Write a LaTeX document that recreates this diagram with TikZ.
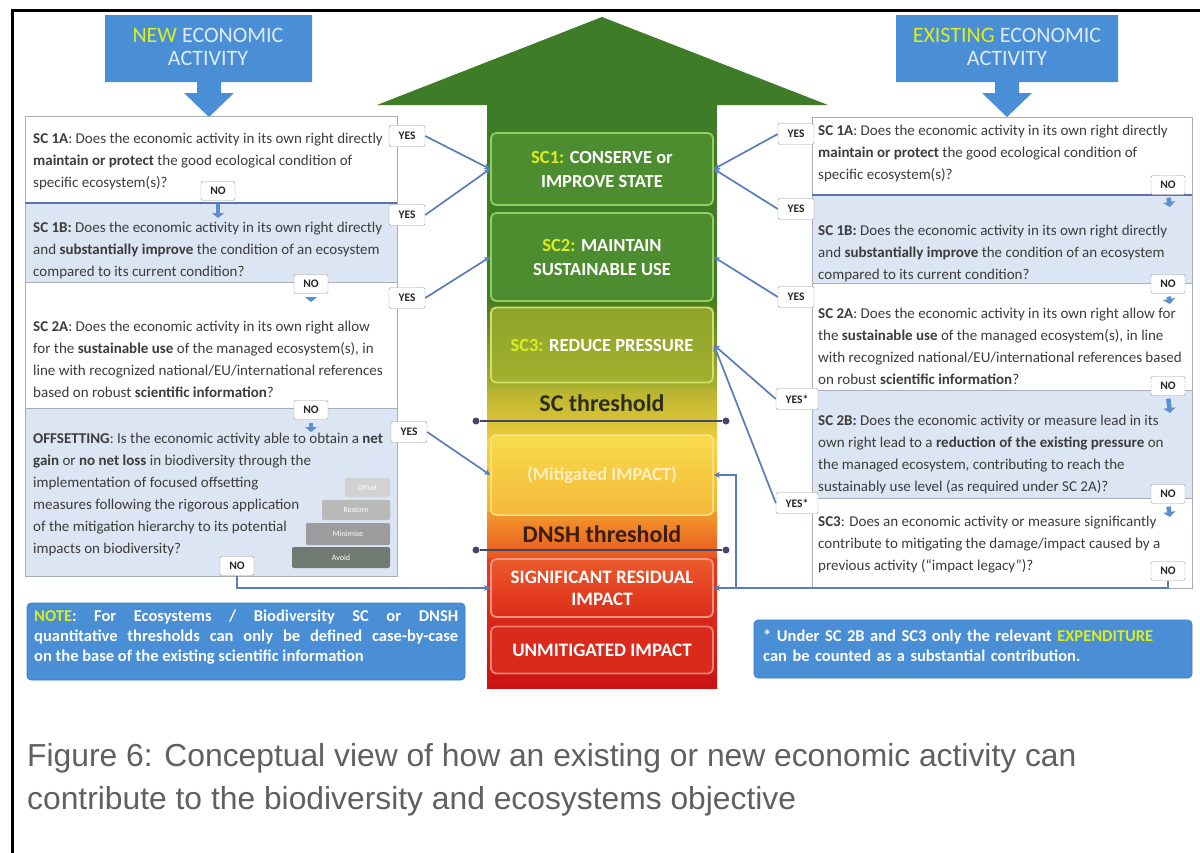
\documentclass[tikz,border=0pt]{standalone}
\usepackage{fontspec}
\setmainfont{Carlito}
\newfontfamily\capfont{Liberation Sans}
\usetikzlibrary{arrows.meta,calc}

\definecolor{hdrblue}{HTML}{4A8ED6}
\definecolor{hdrtext}{HTML}{DDEBFA}
\definecolor{hilite}{HTML}{DAEE1E}
\definecolor{qblue}{HTML}{DCE5F3}
\definecolor{qborder}{HTML}{A9AEB8}
\definecolor{qline}{HTML}{5E72B5}
\definecolor{connblue}{HTML}{5A7CBD}
\definecolor{qtext}{HTML}{3C3C3C}
\definecolor{lblborder}{HTML}{9C9C9C}
\definecolor{capgray}{HTML}{606060}
\definecolor{arrowgreen}{HTML}{3E7C27}
\definecolor{boxgreen}{HTML}{4E8D2F}
\definecolor{boxgreenline}{HTML}{93CF5C}
\definecolor{thrline}{HTML}{46466A}
\definecolor{smallarr}{HTML}{5B8FD0}

\begin{document}
\begin{tikzpicture}[x=1pt,y=-1pt,
  qt/.style={anchor=base west, inner sep=0pt, text=qtext, font=\fontsize{15}{16}\selectfont},
  lbl/.style={draw=lblborder, fill=white, rounded corners=1.5pt, inner sep=0pt,
    minimum width=36pt, minimum height=21pt, text=black!85, font=\bfseries\fontsize{11.5}{12}\selectfont},
  conn/.style={draw=connblue, line width=1.7pt, -{Stealth[length=6pt,width=6pt]}},
  dnarrow/.style={draw=smallarr, line width=4.5pt, shorten <=3pt, -{Triangle[length=5pt,width=12pt]}},
  cbox/.style={rounded corners=5pt, line width=1.8pt, minimum width=222pt, inner sep=0pt,
    text=white, align=center, font=\bfseries\fontsize{18.5}{24}\selectfont},
  thr/.style={draw=thrline, line width=2.2pt},
  thrdot/.style={circle, fill=thrline, inner sep=0pt, minimum size=7pt},
  thrtext/.style={inner sep=0pt, font=\bfseries\fontsize{24}{26}\selectfont},
  stair/.style={rounded corners=2pt, inner sep=0pt, text=white, font=\fontsize{8}{9}\selectfont},
  hdr/.style={inner sep=0pt, align=center, text=hdrtext, font=\fontsize{22}{23}\selectfont},
  notebox/.style={fill=hdrblue, draw=hdrblue!85!black, line width=0.6pt, rounded corners=4pt, inner sep=0pt},
  notetext/.style={anchor=north west, inner sep=0pt, text=white, font=\bfseries\fontsize{16.5}{20}\selectfont},
  captext/.style={anchor=base west, inner sep=0pt, text=capgray, font=\capfont\fontsize{31.8}{40}\selectfont},
]
\useasboundingbox (0,0) rectangle (1200,852);
\fill[white] (0,0) rectangle (1200,852);

% outer frame
\draw[line width=3pt] (12.5,870) -- (12.5,10.5) -- (1215,10.5);

% header callouts
\fill[hdrblue] (105,15) -- (312,15) -- (312,82) -- (221,82) -- (221,93) -- (234,93) -- (209,117)
  -- (184,93) -- (197,93) -- (197,82) -- (105,82) -- cycle;
\node[hdr] (newhdr) at (208,47) {\textcolor{hilite}{NEW} ECONOMIC\\ACTIVITY};
\fill[hdrblue] (896,15) -- (1118,15) -- (1118,82) -- (1019,82) -- (1019,93) -- (1032,93) -- (1007,117)
  -- (982,93) -- (995,93) -- (995,82) -- (896,82) -- cycle;
\node[hdr] (exhdr) at (1007,47) {\textcolor{hilite}{EXISTING} ECONOMIC\\ACTIVITY};

% big arrow: head and graded shaft
\fill[arrowgreen] (377,105) -- (602,17) -- (828,105) -- cycle;
\fill[arrowgreen] (487,104) rectangle (717,302);
\shade[top color=arrowgreen!80!olive, bottom color={rgb,255:red,171;green,178;blue,46}] (487,302) rectangle (717,390);
\shade[top color={rgb,255:red,184;green,180;blue,47}, bottom color={rgb,255:red,237;green,203;blue,60}] (487,390) rectangle (717,438);
\shade[top color={rgb,255:red,245;green,213;blue,69}, bottom color={rgb,255:red,242;green,178;blue,52}] (487,438) rectangle (717,512);
\shade[top color={rgb,255:red,241;green,154;blue,44}, bottom color={rgb,255:red,233;green,86;blue,31}] (487,512) rectangle (717,558);
\shade[top color={rgb,255:red,228;green,60;blue,30}, bottom color={rgb,255:red,201;green,19;blue,19}] (487,558) rectangle (717,688);

% levels inside the arrow
\node[cbox, fill=boxgreen, draw=boxgreenline, minimum height=72pt] (sc1) at (602,169)
  {\textcolor{hilite}{SC1:} CONSERVE or\\IMPROVE STATE};
\node[cbox, fill=boxgreen, draw=boxgreenline, minimum height=88pt] (sc2) at (602,257)
  {\textcolor{hilite}{SC2:} MAINTAIN\\SUSTAINABLE USE};
\node[cbox, top color={rgb,255:red,141;green,164;blue,44}, bottom color={rgb,255:red,163;green,176;blue,46},
  draw={rgb,255:red,210;green,222;blue,106}, minimum height=75pt] (sc3) at (602,345)
  {\textcolor{hilite}{SC3:} REDUCE PRESSURE};
\node[cbox, top color={rgb,255:red,248;green,220;blue,76}, bottom color={rgb,255:red,245;green,184;blue,58},
  draw={rgb,255:red,252;green,230;blue,140}, line width=1.5pt, minimum height=80pt,
  text={rgb,255:red,255;green,239;blue,192}] (mit) at (602,475) {(Mitigated IMPACT)};
\node[cbox, top color={rgb,255:red,236;green,90;blue,44}, bottom color={rgb,255:red,221;green,44;blue,26},
  draw={rgb,255:red,244;green,148;blue,131}, minimum height=58pt, font=\bfseries\fontsize{19}{22}\selectfont]
  (sri) at (602,588) {SIGNIFICANT RESIDUAL\\IMPACT};
\node[cbox, fill={rgb,255:red,217;green,42;blue,28}, draw={rgb,255:red,238;green,132;blue,116},
  minimum height=47pt, font=\bfseries\fontsize{19}{22}\selectfont] (unm) at (602,650) {UNMITIGATED IMPACT};

% thresholds
\node[thrtext, text={rgb,255:red,45;green,45;blue,30}] (sct) at (602,403) {SC threshold};
\node[thrdot] (sca) at (476,421) {};
\node[thrdot] (scb) at (726,421) {};
\draw[thr] (sca) -- (scb);
\node[thrtext, text={rgb,255:red,59;green,30;blue,14}] (dnt) at (602,534) {DNSH threshold};
\node[thrdot] (dna) at (476,550) {};
\node[thrdot] (dnb) at (726,550) {};
\draw[thr] (dna) -- (dnb);

% question panel, new activity
\fill[white] (25,116) rectangle (397,203);
\fill[qblue] (25,203) rectangle (397,282);
\fill[white] (25,282) rectangle (397,408);
\fill[qblue] (25,408) rectangle (397,576);
\draw[qborder, line width=1pt] (25,116) rectangle (397,576);
\draw[qline, line width=1.2pt] (25,203) -- (397,203);
\draw[qborder, line width=1pt] (25,282) -- (397,282);
\draw[qborder, line width=1pt] (25,408) -- (397,408);

% question panel, existing activity
\fill[white] (812,117) rectangle (1192,195);
\fill[qblue] (812,195) rectangle (1192,283);
\fill[white] (812,283) rectangle (1192,390);
\fill[qblue] (812,390) rectangle (1192,498);
\fill[white] (812,498) rectangle (1192,588);
\draw[qborder, line width=1pt] (812,117) rectangle (1192,588);
\draw[qline, line width=1.2pt] (812,195) -- (1192,195);
\draw[qborder, line width=1pt] (812,283) -- (1192,283);
\draw[qborder, line width=1pt] (812,390) -- (1192,390);
\draw[qborder, line width=1pt] (812,498) -- (1192,498);

% mitigation hierarchy steps
\node[stair, fill={rgb,255:red,210;green,210;blue,210}, minimum width=45pt, minimum height=19pt] (stOff) at (367.5,487.5) {Offset};
\node[stair, fill={rgb,255:red,185;green,185;blue,185}, minimum width=68pt, minimum height=20pt] (stRes) at (356,510) {Restore};
\node[stair, fill={rgb,255:red,156;green,156;blue,156}, minimum width=84pt, minimum height=22pt] (stMin) at (348,534) {Minimise};
\node[stair, fill={rgb,255:red,112;green,122;blue,114}, minimum width=98pt, minimum height=21pt] (stAvo) at (341,557.5) {Avoid};

% question texts, new activity
\foreach \qq [count=\i from 0] in {
  {\textbf{SC 1A}: Does the economic activity in its own right directly},
  {\textbf{maintain or protect} the good ecological condition of},
  {specific ecosystem(s)?}}
  \node[qt] (la-\i) at (33,143+22*\i) {\qq};
\foreach \qq [count=\i from 0] in {
  {\textbf{SC 1B:} Does the economic activity in its own right directly},
  {and \textbf{substantially improve} the condition of an ecosystem},
  {compared to its current condition?}}
  \node[qt] (lb-\i) at (33,232+22*\i) {\qq};
\foreach \qq [count=\i from 0] in {
  {\textbf{SC 2A}: Does the economic activity in its own right allow},
  {for the \textbf{sustainable use} of the managed ecosystem(s), in},
  {line with recognized national/EU/international references},
  {based on robust \textbf{scientific information}?}}
  \node[qt] (lc-\i) at (33,331+22*\i) {\qq};
\foreach \qq [count=\i from 0] in {
  {\textbf{OFFSETTING}: Is the economic activity able to obtain a \textbf{net}},
  {\textbf{gain} or \textbf{no net loss} in biodiversity through the},
  {implementation of focused offsetting},
  {measures following the rigorous application},
  {of the mitigation hierarchy to its potential},
  {impacts on biodiversity?}}
  \node[qt] (ld-\i) at (33,443+22*\i) {\qq};

% question texts, existing activity
\foreach \qq [count=\i from 0] in {
  {\textbf{SC 1A}: Does the economic activity in its own right directly},
  {\textbf{maintain or protect} the good ecological condition of},
  {specific ecosystem(s)?}}
  \node[qt] (ra-\i) at (818,135+22*\i) {\qq};
\foreach \qq [count=\i from 0] in {
  {\textbf{SC 1B:} Does the economic activity in its own right directly},
  {and \textbf{substantially improve} the condition of an ecosystem},
  {compared to its current condition?}}
  \node[qt] (rb-\i) at (818,235+22*\i) {\qq};
\foreach \qq [count=\i from 0] in {
  {\textbf{SC 2A}: Does the economic activity in its own right allow for},
  {the \textbf{sustainable use} of the managed ecosystem(s), in line},
  {with recognized national/EU/international references based},
  {on robust \textbf{scientific information}?}}
  \node[qt] (rc-\i) at (818,318+22*\i) {\qq};
\foreach \qq [count=\i from 0] in {
  {\textbf{SC 2B:} Does the economic activity or measure lead in its},
  {own right lead to a \textbf{reduction of the existing pressure} on},
  {the managed ecosystem, contributing to reach the},
  {sustainably use level (as required under SC 2A)?}}
  \node[qt] (rd-\i) at (818,425+22*\i) {\qq};
\foreach \qq [count=\i from 0] in {
  {\textbf{SC3}: Does an economic activity or measure significantly},
  {contribute to mitigating the damage/impact caused by a},
  {previous activity (“impact legacy”)?}}
  \node[qt] (re-\i) at (818,526+22*\i) {\qq};

% YES / NO labels
\node[lbl] (yl1) at (407,136) {YES};
\node[lbl] (yl2) at (407,215) {YES};
\node[lbl] (yl3) at (407,298) {YES};
\node[lbl] (yl4) at (409,432) {YES};
\node[lbl] (yr1) at (796,134) {YES};
\node[lbl] (yr2) at (796,209) {YES};
\node[lbl] (yr3) at (796,297) {YES};
\node[lbl, minimum width=42pt] (yr4) at (797,399) {YES*};
\node[lbl, minimum width=42pt] (yr5) at (797,503) {YES*};

\node[lbl, minimum width=34pt, minimum height=19pt] (nl1) at (218,191) {NO};
\node[lbl, minimum width=34pt, minimum height=19pt] (nl2) at (311,284) {NO};
\node[lbl, minimum width=34pt, minimum height=19pt] (nl3) at (311,410) {NO};
\node[lbl, minimum width=34pt, minimum height=19pt] (nl4) at (237,566) {NO};
\node[lbl, minimum width=34pt, minimum height=19pt] (nr1) at (1168,185) {NO};
\node[lbl, minimum width=34pt, minimum height=19pt] (nr2) at (1168,284) {NO};
\node[lbl, minimum width=34pt, minimum height=19pt] (nr3) at (1168,386) {NO};
\node[lbl, minimum width=34pt, minimum height=19pt] (nr4) at (1168,494) {NO};
\node[lbl, minimum width=34pt, minimum height=19pt] (nr5) at (1168,571) {NO};

% short arrows to the next question
\coordinate (al1) at (218,218);
\coordinate (al2) at (311,302);
\coordinate (al3) at (311,432);
\coordinate (ar1) at (1170,207);
\coordinate (ar2) at (1170,304);
\coordinate (ar3) at (1170,413);
\coordinate (ar4) at (1170,517);
\draw[dnarrow] (nl1.south) -- (al1);
\draw[dnarrow] (nl2.south) -- (al2);
\draw[dnarrow] (nl3.south) -- (al3);
\draw[dnarrow] (nr1.south) -- (ar1);
\draw[dnarrow] (nr2.south) -- (ar2);
\draw[dnarrow] (nr3.south) -- (ar3);
\draw[dnarrow] (nr4.south) -- (ar4);

% YES connectors into the arrow
\draw[conn] (yl1.east) -- (sc1.west);
\draw[conn] (yl2.east) -- (sc1.west);
\draw[conn] (yl3.east) -- (sc2.west);
\draw[conn] (yl4.east) -- (mit.west);
\draw[conn] (yr1.west) -- (sc1.east);
\draw[conn] (yr2.west) -- (sc1.east);
\draw[conn] (yr3.west) -- (sc2.east);
\draw[conn] (yr4.west) -- (sc3.east);
\draw[conn] (yr5.west) -- (sc3.east);

% final NO connectors
\draw[conn] (nl4.south) |- (sri.west);
\draw[conn] (nr5.south) |- (sri.east);
\path (sri.east) ++(22,0) coordinate (jr);
\draw[conn] (jr) |- (mit.east);

% notes
\node[notebox, minimum width=438pt, minimum height=77pt] (noteL) at (246,641.5) {};
\node[notetext, text width=424pt, align=justify] (noteLt) at (34,610)
  {\textcolor{hilite}{NOTE}: For Ecosystems / Biodiversity SC or DNSH\linebreak
   quantitative thresholds can only be defined case-by-case\linebreak
   on the base of the existing scientific information};
\node[notebox, minimum width=438pt, minimum height=58pt] (noteR) at (973,649) {};
\node[notetext, text width=426pt, align=left] (noteRt) at (763,629)
  {* Under SC 2B and SC3 only the relevant \textcolor{hilite}{EXPENDITURE}\\
   can be counted as a substantial contribution.};

% caption
\node[captext] (cap1) at (27,766) {Figure 6: Conceptual view of how an existing or new economic activity can};
\node[captext] (cap2) at (27,809) {contribute to the biodiversity and ecosystems objective};
\end{tikzpicture}
\end{document}
